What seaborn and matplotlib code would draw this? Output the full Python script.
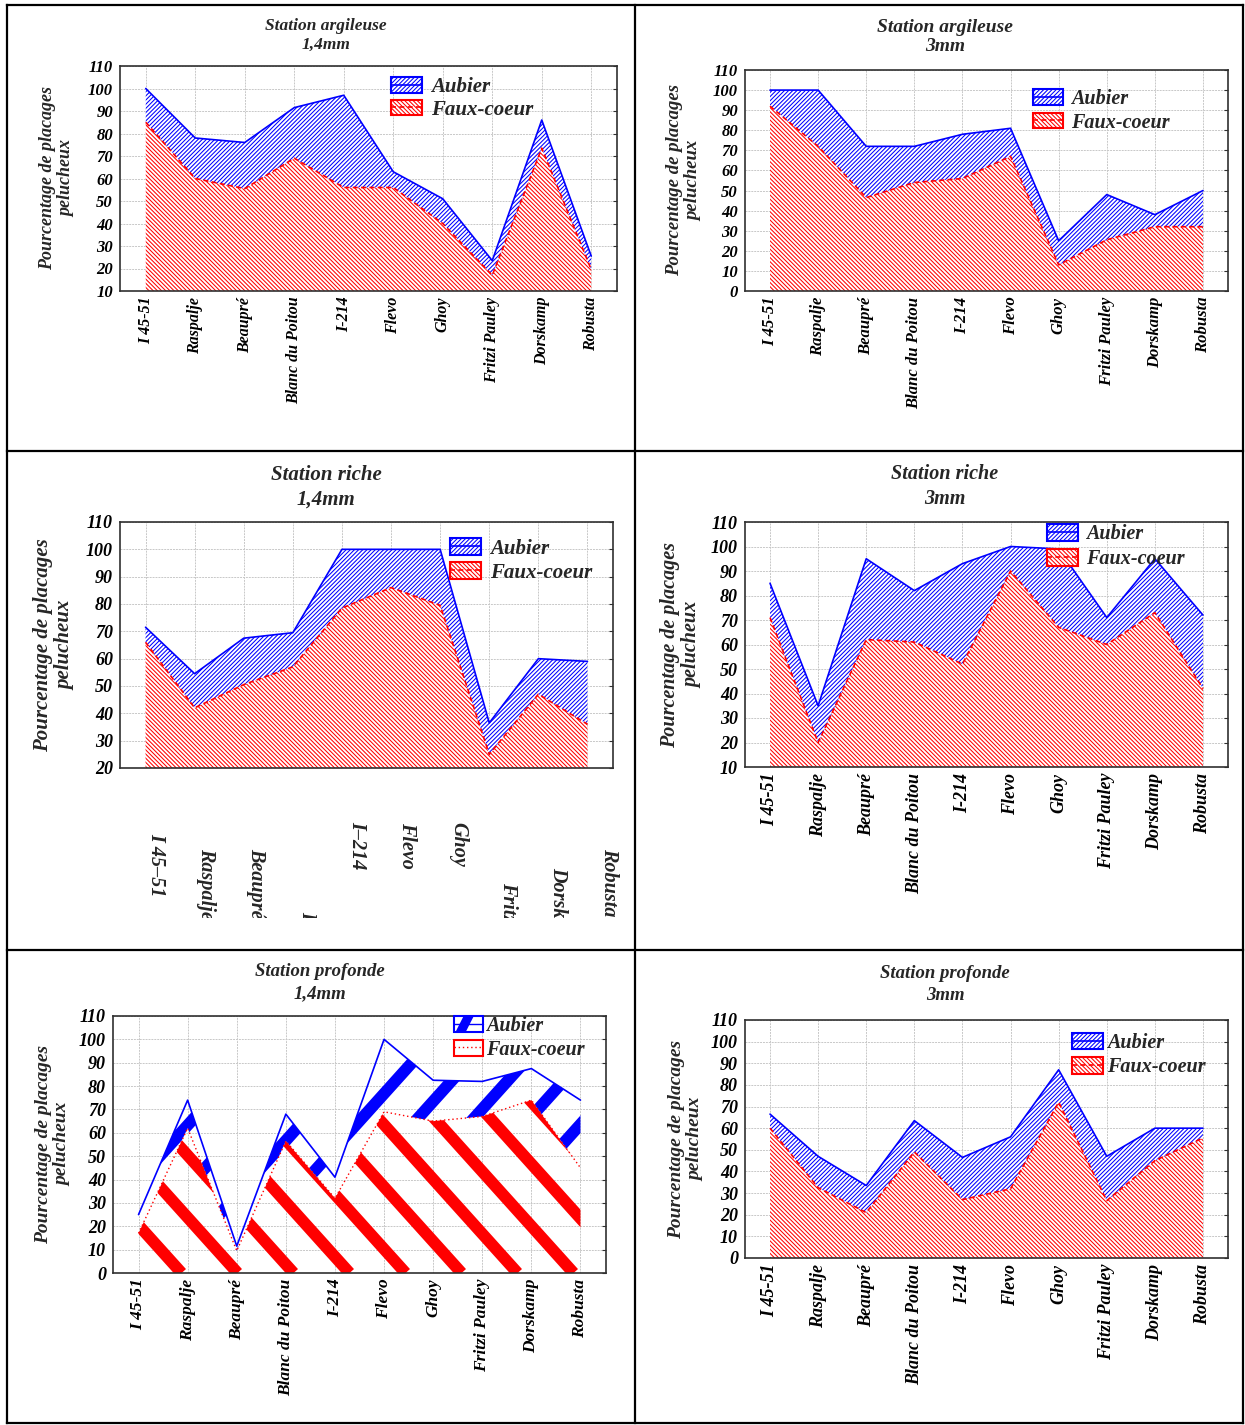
import numpy as np
import pandas as pd
import matplotlib
matplotlib.use("Agg")
import matplotlib.pyplot as plt
import seaborn as sns
from matplotlib.patches import Patch, Rectangle, Polygon
from matplotlib.lines import Line2D
from matplotlib.legend_handler import HandlerTuple, HandlerBase
from matplotlib.transforms import blended_transform_factory, Bbox, TransformedBbox

# ---------------------------------------------------------------- data
cultivars = ["I 45-51", "Raspalje", "Beaupré", "Blanc du Poitou", "I-214",
             "Flevo", "Ghoy", "Fritzi Pauley", "Dorskamp", "Robusta"]
cultivars_dash = ["I 45–51", "Raspalje", "Beaupré", "Blanc du Poitou", "I–214",
                  "Flevo", "Ghoy", "Fritzi Pauley", "Dorskamp", "Robusta"]

aubier_argileuse_14 = [100, 78, 76, 91.5, 97, 63, 51, 23.5, 86, 25.5]
faux_argileuse_14 = [85, 60, 55.5, 69, 56, 56, 40, 17, 73.5, 19.5]

aubier_argileuse_3 = [100, 100, 72, 72, 78, 81, 25, 48, 38, 50]
faux_argileuse_3 = [92, 72, 46.5, 54, 56, 67, 13, 25.5, 32, 32]

aubier_riche_14 = [71.5, 54.5, 67.5, 69.5, 100, 100, 100, 36.5, 60, 59]
faux_riche_14 = [66, 42, 50.5, 57, 78.5, 86, 79.5, 25, 47, 36]

aubier_riche_3 = [85, 35, 95, 82, 93, 100, 99, 71, 95, 72]
faux_riche_3 = [71, 20, 62, 61, 52, 90, 67, 60, 73, 42]

aubier_profonde_14 = [25, 74, 11.5, 68, 41, 100, 82.5, 82, 87.5, 74]
faux_profonde_14 = [17, 62, 9.5, 56.5, 32, 69, 65, 67, 74, 45]

aubier_profonde_3 = [66.5, 47, 33.5, 63.5, 46.5, 56, 87, 47, 60, 60]
faux_profonde_3 = [60, 32.5, 21, 49, 27, 32, 72, 26.5, 45, 55.5]

legend_labels = ["Aubier", "Faux-coeur"]
ylabel_text = "Pourcentage de placages\npelucheux"

# ---------------------------------------------------------------- style
sns.set_style("white")
plt.rcParams["font.family"] = ["Liberation Serif", "DejaVu Serif"]
plt.rcParams["font.weight"] = "bold"
plt.rcParams["font.style"] = "italic"
plt.rcParams["hatch.linewidth"] = 0.75

BLUE = "#0000ff"
RED = "#ff0000"
HATCH_BLUE = "/" * 8
HATCH_RED = "\\" * 8
W, H = 1245, 1425
fig = plt.figure(figsize=(W / 100, H / 100), dpi=100)
fig.patch.set_facecolor("white")

FONT = dict(family=["Liberation Serif", "DejaVu Serif"], weight="bold", style="italic")


def fy(y):
    return 1 - y / H


def fx(x):
    return x / W


class StripeKey:
    pass


class StripeHandler(HandlerBase):
    """Legend box with one broad diagonal stripe and a centre line."""

    def create_artists(self, legend, orig_handle, xd, yd, w, h, fontsize, trans):
        x0, y0 = -xd, -yd
        stripe = Polygon([[x0 + 0.05 * w, y0], [x0 + 0.40 * w, y0],
                          [x0 + 0.68 * w, y0 + h], [x0 + 0.33 * w, y0 + h]],
                         closed=True, facecolor=BLUE, edgecolor="none", transform=trans)
        box = Rectangle((x0, y0), w, h, facecolor="none", edgecolor=BLUE, lw=1.5,
                        transform=trans)
        line = Line2D([x0, x0 + w], [y0 + h / 2] * 2, color=BLUE, lw=1.0, transform=trans)
        return [stripe, line, box]


panels = [
    dict(aub=aubier_argileuse_14, faux=faux_argileuse_14, ymin=10,
         title="Station argileuse\n1,4mm", title_xy=(326, 35.5), title_fs=12.5, title_ls=1.25,
         box=(120, 617, 66, 291), ylab_fs=13, ylab_dx=-45, tick_fs=12, xt_fs=11.5,
         leg=(391, 77), leg_fs=15, leg_h=(1.5, 0.78), leg_sp=0.12, leg_pad=0.4),
    dict(aub=aubier_argileuse_3, faux=faux_argileuse_3, ymin=0,
         title="Station argileuse\n3mm", title_xy=(945, 37), title_fs=14, title_ls=1.2,
         box=(745, 1228, 70, 291), ylab_fs=13.5, ylab_dx=-43, tick_fs=12, xt_fs=12,
         leg=(1033, 89), leg_fs=14.5, leg_h=(1.5, 0.78), leg_sp=0.18, leg_pad=0.4),
    dict(aub=aubier_riche_14, faux=faux_riche_14, ymin=20,
         title="Station riche\n1,4mm", title_xy=(326, 487), title_fs=15, title_ls=1.3,
         box=(120, 613, 522, 768), ylab_fs=15, ylab_dx=-45, tick_fs=13, xt_fs=14.5,
         leg=(450, 538), leg_fs=15, leg_h=(1.5, 0.9), leg_sp=0.14, leg_pad=0.4,
         odd_labels=True),
    dict(aub=aubier_riche_3, faux=faux_riche_3, ymin=10,
         title="Station riche\n3mm", title_xy=(945, 486.5), title_fs=14.5, title_ls=1.3,
         box=(745, 1228, 522, 767), ylab_fs=14.5, ylab_dx=-43, tick_fs=13, xt_fs=13,
         leg=(1047, 524), leg_fs=14.5, leg_h=(1.55, 0.92), leg_sp=0.22, leg_pad=0.4),
    dict(aub=aubier_profonde_14, faux=faux_profonde_14, ymin=0,
         title="Station profonde\n1,4mm", title_xy=(320, 982.5), title_fs=13.5, title_ls=1.35,
         box=(113, 606, 1016, 1273), ylab_fs=14, ylab_dx=-42, tick_fs=13, xt_fs=12.5,
         leg=(454, 1016), leg_fs=14.5, leg_h=(1.45, 0.85), leg_sp=0.18, leg_pad=0.15,
         broad=True),
    dict(aub=aubier_profonde_3, faux=faux_profonde_3, ymin=0,
         title="Station profonde\n3mm", title_xy=(945, 984.5), title_fs=13.5, title_ls=1.35,
         box=(745, 1228, 1020, 1258), ylab_fs=14, ylab_dx=-41, tick_fs=13, xt_fs=13,
         leg=(1072, 1033), leg_fs=14.5, leg_h=(1.55, 0.88), leg_sp=0.2, leg_pad=0.2),
]


def broad_stripes(ax, clip_poly, color, sign, wpx, hpx, period=56, angle=48, lw=8.5, phase=0):
    """Broad diagonal stripes drawn in axes space, clipped to a filled region."""
    dx = hpx / np.tan(np.radians(angle))
    path = clip_poly.get_paths()[0]
    for x0 in np.arange(-dx - period + phase, wpx + dx + period, period):
        xs = np.array([x0, x0 + sign * dx]) / wpx
        ln, = ax.plot(xs, [0, 1], transform=ax.transAxes, color=color, lw=lw,
                      solid_capstyle="butt", zorder=1.5)
        ln.set_clip_path(path, ax.transData)


for p in panels:
    l, r, t, b = p["box"]
    ax = fig.add_axes([fx(l), fy(b), (r - l) / W, (b - t) / H])
    x = np.arange(len(cultivars))
    df = pd.DataFrame({"pos": x, "aubier": p["aub"], "faux": p["faux"]})

    if p.get("broad"):
        red_poly = ax.fill_between(df["pos"], 0, df["faux"], facecolor="none",
                                   edgecolor="none", lw=0)
        blue_poly = ax.fill_between(df["pos"], df["faux"], df["aubier"], facecolor="none",
                                    edgecolor="none", lw=0)
        broad_stripes(ax, red_poly, RED, -1, r - l, b - t, phase=20)
        broad_stripes(ax, blue_poly, BLUE, 1, r - l, b - t, phase=5)
        faux_ls = (0, (1, 2))
        faux_lw = 1.0
    else:
        ax.fill_between(df["pos"], 0, df["faux"], facecolor="white", edgecolor=RED,
                        hatch=HATCH_RED, lw=0, zorder=1)
        ax.fill_between(df["pos"], df["faux"], df["aubier"], facecolor="white",
                        edgecolor=BLUE, hatch=HATCH_BLUE, lw=0, zorder=1)
        faux_ls = (0, (3, 2))
        faux_lw = 1.2

    sns.lineplot(data=df, x="pos", y="aubier", ax=ax, color=BLUE, lw=1.2,
                 legend=False, zorder=3)
    sns.lineplot(data=df, x="pos", y="faux", ax=ax, color=RED, lw=faux_lw,
                 linestyle=faux_ls, legend=False, zorder=3)

    ax.set_xlim(-0.52, 9.52)
    ax.set_ylim(p["ymin"], 110)
    ax.set_yticks(np.arange(p["ymin"], 111, 10))
    ax.set_xticks(x)
    ax.set_axisbelow(True)
    ax.grid(True, color="#c8c8c8", lw=0.7, linestyle=(0, (2, 1)))
    for s in ax.spines.values():
        s.set_color("#303030")
        s.set_linewidth(1.2)
        s.set_zorder(5)
    ax.tick_params(axis="both", direction="in", length=3, width=0.8, right=True,
                   colors="#303030", labelcolor="black")
    ax.tick_params(axis="y", pad=5, labelsize=p["tick_fs"])
    ax.set_xlabel("")
    ax.set_ylabel("")

    if p.get("odd_labels"):
        ax.set_xticklabels([])
        tr = blended_transform_factory(ax.transData, fig.transFigure)
        clip = TransformedBbox(Bbox([[0, fy(918)], [1, 1]]), fig.transFigure)
        tops = [833, 848, 848, 911, 821, 822, 822, 882, 867, 848]
        for i, (lab, top) in enumerate(zip(cultivars_dash, tops)):
            txt = fig.text(i * 1.025 + 0.21, fy(top), lab, transform=tr, rotation=270,
                           ha="center", va="top", fontsize=p["xt_fs"], **FONT)
            txt.set_clip_box(clip)
            txt.set_clip_on(True)
    else:
        ax.set_xticklabels(cultivars, rotation=90, fontsize=p["xt_fs"], **FONT)
        ax.tick_params(axis="x", pad=4)
    for lab in ax.get_yticklabels():
        lab.set_fontproperties(dict(FONT, size=p["tick_fs"]))

    # two-line y label, right edge set relative to the left spine
    ax.set_ylabel(ylabel_text, fontsize=p["ylab_fs"], linespacing=1.15, **FONT)
    ax.yaxis.set_label_coords(p["ylab_dx"] / (r - l), 0.5)

    # two-line title
    tx, ty = p["title_xy"]
    fig.text(fx(tx), fy(ty), p["title"], ha="center", va="center", multialignment="center",
             linespacing=p["title_ls"], fontsize=p["title_fs"], **FONT)

    # legend
    if p.get("broad"):
        h_aub = StripeKey()
        hmap = {StripeKey: StripeHandler(), tuple: HandlerTuple(ndivide=1)}
        h_faux = (Patch(facecolor="white", edgecolor=RED, lw=1.5),
                  Line2D([], [], color=RED, lw=1.0, linestyle=(0, (1, 2))))
    else:
        hmap = {tuple: HandlerTuple(ndivide=1)}
        h_aub = (Patch(facecolor="white", edgecolor=BLUE, hatch=HATCH_BLUE, lw=1.5),
                 Line2D([], [], color=BLUE, lw=1.2))
        h_faux = (Patch(facecolor="white", edgecolor=RED, hatch=HATCH_RED, lw=1.5),
                  Line2D([], [], color=RED, lw=1.2, linestyle=(0, (3, 2))))
    lx, ly = p["leg"]
    leg = ax.legend([h_aub, h_faux], legend_labels, handler_map=hmap,
                    loc="upper left", bbox_to_anchor=(fx(lx), fy(ly)),
                    bbox_transform=fig.transFigure, frameon=False, borderpad=0,
                    borderaxespad=0, handlelength=p["leg_h"][0],
                    handleheight=p["leg_h"][1], handletextpad=p["leg_pad"],
                    labelspacing=p["leg_sp"], prop=dict(FONT, size=p["leg_fs"]))
    leg.set_zorder(10)

# table rules around the six panels
RULE = dict(color="black", lw=1.6, solid_capstyle="projecting")
for xv in (7, 635, 1243):
    fig.add_artist(Line2D([fx(xv), fx(xv)], [fy(5), fy(1423)], transform=fig.transFigure, **RULE))
for yv in (5, 451, 950, 1423):
    fig.add_artist(Line2D([fx(7), fx(1243)], [fy(yv), fy(yv)], transform=fig.transFigure, **RULE))

fig.savefig("out.png", dpi=100, facecolor="white")
